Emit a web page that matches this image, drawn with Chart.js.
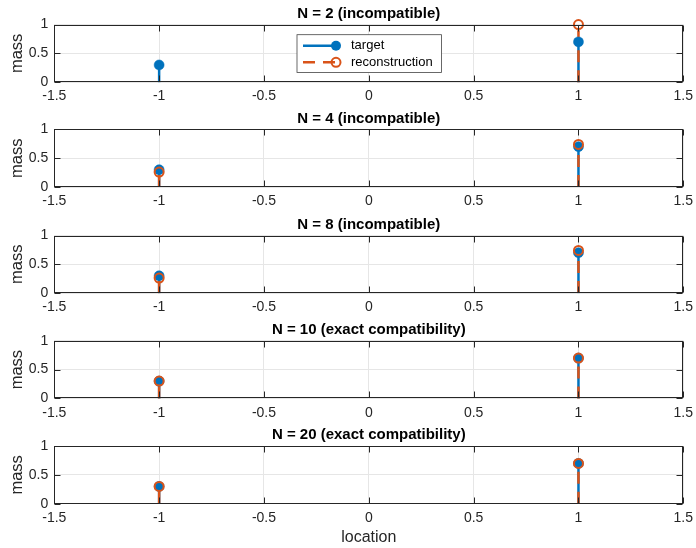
<!DOCTYPE html>
<html>
<head>
<meta charset="utf-8">
<script src="https://cdn.jsdelivr.net/npm/chart.js@4.4.1/dist/chart.umd.min.js"></script>
<style>
  html, body { margin: 0; padding: 0; background: #ffffff; }
  #wrap { position: relative; width: 696px; height: 548px; overflow: hidden; background: #fff; }
  canvas { position: absolute; left: 0; }
</style>
</head>
<body>
<div id="wrap"></div>
<script>
// ---- data ----
const locations = [-1, 1];
const target = [0.3, 0.7];
const recon2 = [null, 1.0];
const recon4 = [0.26, 0.74];
const recon8 = [0.26, 0.74];
const recon10 = [0.3, 0.7];
const recon20 = [0.3, 0.7];
const reconstructions = [recon2, recon4, recon8, recon10, recon20];
const titles = [
  'N = 2 (incompatible)',
  'N = 4 (incompatible)',
  'N = 8 (incompatible)',
  'N = 10 (exact compatibility)',
  'N = 20 (exact compatibility)'
];
const seriesLabels = ['target', 'reconstruction'];
const xMin = -1.5, xMax = 1.5, xStep = 0.5;
const yMin = 0, yMax = 1, yStep = 0.5;
const yLabel = 'mass';
const xLabel = 'location';

// ---- style / layout ----
const BLUE = '#0072BD';
const ORANGE = '#D95319';
const AX = '#262626';
const FONT = '"Liberation Sans", Arial, Helvetica, sans-serif';
const plotTops = [24.6, 129.4, 235.5, 340.8, 446.1];
const plotH = 57.6;
const plotLeft = 54.3;
const padRight = 12.7;
const DASH = [12, 8];
const fmt = v => String(Math.round(v * 100) / 100);

const stemPlugin = {
  id: 'stems',
  beforeDatasetsDraw(chart) {
    const ctx = chart.ctx;
    const y0 = chart.scales.y.getPixelForValue(0);
    chart.data.datasets.forEach((ds, i) => {
      const meta = chart.getDatasetMeta(i);
      ctx.save();
      ctx.strokeStyle = ds.stemColor;
      ctx.lineWidth = 2.5;
      ctx.setLineDash(ds.stemDash || []);
      meta.data.forEach((el, j) => {
        const v = ds.data[j].y;
        if (v === null || v === undefined || isNaN(el.y)) return;
        ctx.beginPath();
        ctx.moveTo(el.x, y0);
        ctx.lineTo(el.x, el.y);
        ctx.stroke();
      });
      ctx.restore();
    });
  }
};

const boxPlugin = {
  id: 'box',
  afterDraw(chart, args, opts) {
    const ctx = chart.ctx;
    const { left, right, top, bottom } = chart.chartArea;
    const L = Math.round(left) + 0.5, R = Math.round(right) - 0.5;
    const T = Math.round(top) + 0.5, B = Math.round(bottom) - 0.5;
    ctx.save();
    ctx.strokeStyle = AX;
    ctx.lineWidth = 1;
    ctx.strokeRect(L, T, R - L, B - T);
    const tl = 6;
    ctx.beginPath();
    chart.scales.x.ticks.forEach(t => {
      const px = Math.round(chart.scales.x.getPixelForValue(t.value)) + 0.5;
      ctx.moveTo(px, B); ctx.lineTo(px, B - tl);
      ctx.moveTo(px, T); ctx.lineTo(px, T + tl);
    });
    chart.scales.y.ticks.forEach(t => {
      const py = Math.round(chart.scales.y.getPixelForValue(t.value)) + 0.5;
      ctx.moveTo(L, py); ctx.lineTo(L + tl, py);
      ctx.moveTo(R, py); ctx.lineTo(R - tl, py);
    });
    ctx.stroke();
    // title
    ctx.fillStyle = '#000';
    ctx.font = 'bold 15px ' + FONT;
    ctx.textAlign = 'center';
    ctx.textBaseline = 'middle';
    ctx.fillText(opts.title, (left + right) / 2, top - 11);
    // y label
    ctx.fillStyle = AX;
    ctx.font = '16.5px ' + FONT;
    ctx.save();
    ctx.translate(17, (top + bottom) / 2);
    ctx.rotate(-Math.PI / 2);
    ctx.fillText(yLabel, 0, 0);
    ctx.restore();
    if (opts.xlabel) {
      ctx.font = '16px ' + FONT;
      ctx.fillText(xLabel, (left + right) / 2, bottom + 34);
    }
    // legend
    if (opts.legend) {
      const bx = 297, by = 34.7, bw = 144.5, bh = 37.8;
      ctx.fillStyle = '#fff';
      ctx.fillRect(bx, by, bw, bh);
      ctx.strokeStyle = '#444';
      ctx.lineWidth = 0.8;
      ctx.strokeRect(bx, by, bw, bh);
      const ds = chart.data.datasets;
      const rows = [45.7, 62.3];
      ctx.strokeStyle = BLUE; ctx.lineWidth = 2.5; ctx.setLineDash([]);
      ctx.beginPath(); ctx.moveTo(303, rows[0]); ctx.lineTo(336, rows[0]); ctx.stroke();
      ctx.fillStyle = BLUE;
      ctx.beginPath(); ctx.arc(336, rows[0], 5, 0, Math.PI * 2); ctx.fill();
      ctx.strokeStyle = ORANGE; ctx.setLineDash(DASH);
      ctx.beginPath(); ctx.moveTo(303, rows[1]); ctx.lineTo(336, rows[1]); ctx.stroke();
      ctx.setLineDash([]); ctx.lineWidth = 2;
      ctx.beginPath(); ctx.arc(336, rows[1], 4.5, 0, Math.PI * 2); ctx.stroke();
      ctx.fillStyle = '#000';
      ctx.font = '13px ' + FONT;
      ctx.textAlign = 'left';
      ctx.fillText(ds[0].label, 351, rows[0]);
      ctx.fillText(ds[1].label, 351, rows[1]);
    }
    ctx.restore();
  }
};

const wrap = document.getElementById('wrap');
titles.forEach((title, k) => {
  const canvasTop = Math.floor(plotTops[k]) - 24;
  const padTop = plotTops[k] - canvasTop;
  const last = k === titles.length - 1;
  const H = last ? 548 - canvasTop : 110;
  const cv = document.createElement('canvas');
  cv.width = 696; cv.height = H;
  cv.style.top = canvasTop + 'px';
  cv.style.width = '696px'; cv.style.height = H + 'px';
  wrap.appendChild(cv);
  const xH = H - padTop - plotH;
  new Chart(cv.getContext('2d'), {
    type: 'scatter',
    data: {
      datasets: [
        {
          label: seriesLabels[0],
          order: 1,
          data: locations.map((x, i) => ({ x: x, y: target[i] })),
          pointRadius: 5, pointHoverRadius: 5,
          pointBackgroundColor: BLUE, pointBorderColor: BLUE, pointBorderWidth: 0.5,
          stemColor: BLUE, stemDash: [], clip: false
        },
        {
          label: seriesLabels[1],
          order: 0,
          data: locations.map((x, i) => ({ x: x, y: reconstructions[k][i] })),
          pointRadius: 4.5, pointHoverRadius: 4.5,
          pointBackgroundColor: 'rgba(0,0,0,0)', pointBorderColor: ORANGE, pointBorderWidth: 2,
          stemColor: ORANGE, stemDash: DASH, clip: false
        }
      ]
    },
    options: {
      responsive: false,
      animation: false,
      devicePixelRatio: 1,
      events: [],
      layout: { padding: { top: padTop, right: padRight, left: 0, bottom: 0 } },
      plugins: {
        legend: { display: false },
        tooltip: { enabled: false },
        title: { display: false },
        box: { title: title, legend: k === 0, xlabel: last }
      },
      scales: {
        x: {
          type: 'linear', min: xMin, max: xMax,
          ticks: { stepSize: xStep, color: AX, font: { family: FONT, size: 14 }, padding: 6, maxRotation: 0, autoSkip: false, callback: fmt },
          grid: { color: '#e6e6e6', lineWidth: 1, drawTicks: false },
          border: { display: false },
          afterFit(scale) { scale.height = xH; scale.paddingLeft = 0; scale.paddingRight = 0; }
        },
        y: {
          type: 'linear', min: yMin, max: yMax,
          ticks: { stepSize: yStep, color: AX, font: { family: FONT, size: 14 }, padding: 6, callback: fmt },
          grid: { color: '#e6e6e6', lineWidth: 1, drawTicks: false },
          border: { display: false },
          afterFit(scale) { scale.width = plotLeft; scale.paddingTop = 0; scale.paddingBottom = 0; }
        }
      }
    },
    plugins: [stemPlugin, boxPlugin]
  });
});
</script>
</body>
</html>
